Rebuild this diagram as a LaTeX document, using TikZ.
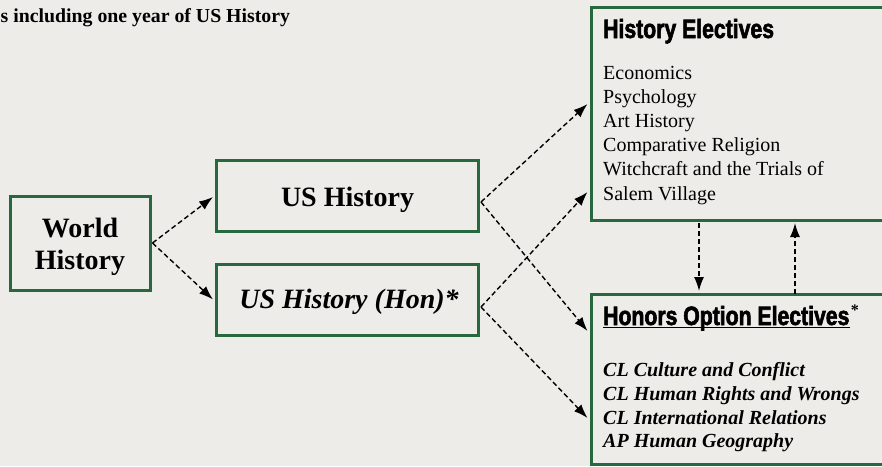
\documentclass[tikz,border=0pt]{standalone}
\usepackage{fontspec}
\setmainfont{Liberation Serif}
\newfontfamily\headfont[FakeStretch=0.8,FakeBold=2.2]{Liberation Sans}
\usetikzlibrary{arrows.meta,calc}
\definecolor{bg}{RGB}{237,236,232}
\definecolor{boxgreen}{RGB}{40,104,62}
\tikzset{
  box/.style={draw=boxgreen, line width=3pt, inner sep=0pt, rectangle},
  conn/.style={draw=black, line width=1.4pt, dash pattern=on 5pt off 3pt,
    -{Latex[length=14pt,width=10pt]}},
  txt/.style={inner sep=0pt, anchor=base},
  lst/.style={inner sep=0pt, anchor=base west, font=\fontsize{20}{24}\selectfont},
  hlst/.style={inner sep=0pt, anchor=base west, font=\fontsize{20}{24}\selectfont\bfseries\itshape},
  head/.style={inner sep=0pt, anchor=base west, font=\headfont\bfseries\fontsize{26.5}{30}\selectfont},
}
\begin{document}
\begin{tikzpicture}[x=1pt,y=-1pt]
\fill[bg] (0,0) rectangle (882,466);
\useasboundingbox (0,0) rectangle (882,466);

\node[txt, anchor=base west, font=\bfseries\fontsize{19.8}{22}\selectfont] (top) at (0.5,22) {s including one year of US History};

% boxes
\node[box, minimum width=140pt, minimum height=94pt] (wh) at (80,243) {};
\node[box, minimum width=262pt, minimum height=71pt] (ush) at (347,195.5) {};
\node[box, minimum width=262pt, minimum height=71pt] (ushon) at (347,299.5) {};
\node[box, minimum width=295pt, minimum height=213pt] (he) at (738.5,113.5) {};
\node[box, minimum width=295pt, minimum height=170pt] (hon) at (738.5,379) {};

% box texts
\node[txt, font=\bfseries\fontsize{28}{32}\selectfont] (wht1) at (80,237) {World};
\node[txt, font=\bfseries\fontsize{28}{32}\selectfont] (wht2) at (80,269) {History};
\node[txt, font=\bfseries\fontsize{28}{32}\selectfont] (usht) at (347.5,206) {US History};
\node[txt, font=\bfseries\itshape\fontsize{28}{32}\selectfont] (ushont) at (349,308) {US History (Hon)*};

\node[head] (het) at (603,38) {History Electives};
\node[lst] (he1) at (603,79) {Economics};
\node[lst] (he2) at (603,103.2) {Psychology};
\node[lst] (he3) at (603,127.4) {Art History};
\node[lst] (he4) at (603,151.6) {Comparative Religion};
\node[lst] (he5) at (603,175.8) {Witchcraft and the Trials of};
\node[lst] (he6) at (603,200) {Salem Village};

\node[head] (hont) at (603,325) {Honors Option Electives};
\node[inner sep=0pt, anchor=north west, font=\bfseries\fontsize{16}{16}\selectfont] (hons) at ([xshift=1pt,yshift=20pt]hont.base east) {*};
\draw[black, line width=1.6pt] ([yshift=-2.5pt]hont.base west) -- ([yshift=-2.5pt]hont.base east);
\node[hlst] (ho1) at (603,376) {CL Culture and Conflict};
\node[hlst] (ho2) at (603,400) {CL Human Rights and Wrongs};
\node[hlst] (ho3) at (603,424) {CL International Relations};
\node[hlst] (ho4) at (603,447) {AP Human Geography};

% connectors
\draw[conn] ([xshift=1pt]wh.east) -- ([xshift=-1.5pt,yshift=-1.5pt]ush.west);
\draw[conn] ([xshift=1pt]wh.east) -- ([xshift=-1.5pt]ushon.west);
\draw[conn] ([xshift=1.5pt,yshift=-6.5pt]ush.east) -- ([xshift=-2pt,yshift=9.5pt]he.west);
\draw[conn] ([xshift=1.5pt,yshift=-6.5pt]ush.east) -- ([xshift=-2pt,yshift=48pt]hon.west);
\draw[conn] ([xshift=1.5pt,yshift=-7.5pt]ushon.east) -- ([xshift=-2pt,yshift=-78.5pt]he.west);
\draw[conn] ([xshift=1.5pt,yshift=-7.5pt]ushon.east) -- ([xshift=-2pt,yshift=-39pt]hon.west);
\coordinate (d1) at (699,0);
\draw[conn] ([yshift=-1.5pt]he.south -| d1) -- ([yshift=1.5pt]hon.north -| d1);
\coordinate (u1) at (795,0);
\draw[conn] ([yshift=-1.5pt]hon.north -| u1) -- ([yshift=-1.5pt]he.south -| u1);
\end{tikzpicture}
\end{document}
